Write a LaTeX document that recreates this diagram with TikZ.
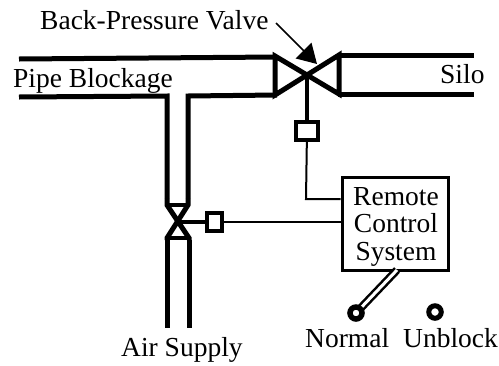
\documentclass[tikz,border=0pt]{standalone}
\usepackage{fontspec}
\setmainfont{Liberation Serif}
\usetikzlibrary{positioning, arrows.meta}

\tikzset{
  caption/.style={inner sep=0pt, anchor=base west, font=\fontsize{27.5}{28}\selectfont},
  boxtext/.style={inner sep=0pt, anchor=base, font=\fontsize{27.5}{28}\selectfont},
  pipe/.style={line width=5pt, line join=miter},
  wire/.style={line width=2pt},
  stem/.style={line width=3.5pt},
  actuator/.style={draw, line width=4pt, fill=white, inner sep=0pt},
  knob/.style={circle, draw, fill=white, inner sep=0pt}
}

\begin{document}
\begin{tikzpicture}[x=1pt, y=-1pt]
    \useasboundingbox (0,0) rectangle (499,365);

    % labels
    \node[caption] (backlabel) at (40,29) {Back-Pressure Valve};
    \node[caption] (blocklabel) at (13,87) {Pipe Blockage};
    \node[caption] (silolabel) at (440,83) {Silo};
    \node[caption] (airlabel) at (121,356) {Air Supply};
    \node[caption] (normallabel) at (305,347) {Normal};
    \node[caption] (unblocklabel) at (403,347) {Unblock};

    % pipes
    \coordinate (topleft) at (19,59);
    \coordinate (topvalve) at (277,57);
    \coordinate (lowleft) at (19,97);
    \coordinate (teeleft) at (167,96);
    \coordinate (teeright) at (188,96);
    \coordinate (lowvalve) at (277,95);
    \coordinate (topsilo) at (474,55);
    \coordinate (lowsilo) at (474,94);
    \draw[pipe] (topleft) -- (topvalve);
    \draw[pipe] (lowleft) -- (teeleft) -- (167,198);
    \draw[pipe] (lowvalve) -- (teeright) -- (188,198);
    \draw[pipe] (338,55) -- (topsilo);
    \draw[pipe] (338,94) -- (lowsilo);
    \draw[pipe] (167,240) -- (167,328);
    \draw[pipe] (189,240) -- (189,328);

    % back-pressure valve
    \coordinate (backvalve) at (307,75);
    \draw[pipe] (275,56) -- (275,95) -- (339,55) -- (339,94) -- cycle;

    % air valve
    \coordinate (airvalve) at (178,222);
    \draw[pipe] (167,198) -- (167,205) -- (189,238) -- (189,240);
    \draw[pipe] (188,198) -- (188,205) -- (167,238) -- (167,240);
    \draw[line width=4pt] (167,205) -- (188,205);
    \draw[line width=4pt] (167,238) -- (189,238);

    % control box and actuators
    \node[draw, line width=3pt, minimum width=106pt, minimum height=93pt, inner sep=0pt] (control) at (395,223.5) {};
    \node[boxtext] (remotetext) at (396,205) {Remote};
    \node[boxtext] (controltext) at (396,232) {Control};
    \node[boxtext] (systemtext) at (396,260) {System};
    \draw[stem] (backvalve) -- (307,122);
    \draw[stem] (airvalve) -- (207,222);
    \node[actuator, minimum width=22pt, minimum height=18pt] (backbox) at (307,131) {};
    \node[actuator, minimum width=15pt, minimum height=18pt] (airbox) at (214.5,222) {};
    \draw[wire] (backbox) -- (306,199) -- (control.west |- 306,199);
    \draw[wire] (airbox.east) -- (control.west |- airbox.east);

    % switch
    \coordinate (lever) at (397,270);
    \draw[line width=2.5pt, double, double distance=3pt] (lever) -- (356,313);
    \node[knob, line width=5.5pt, minimum size=12pt] (normal) at (356,313) {};
    \node[knob, line width=5pt, minimum size=12.5pt] (unblock) at (435,312) {};

    % pointer
    \coordinate (pointerstart) at (276,23);
    \coordinate (pointertip) at (317,64);
    \draw[line width=1.5pt, -{Triangle[length=19pt, width=22pt]}] (pointerstart) -- (pointertip);
\end{tikzpicture}
\end{document}
